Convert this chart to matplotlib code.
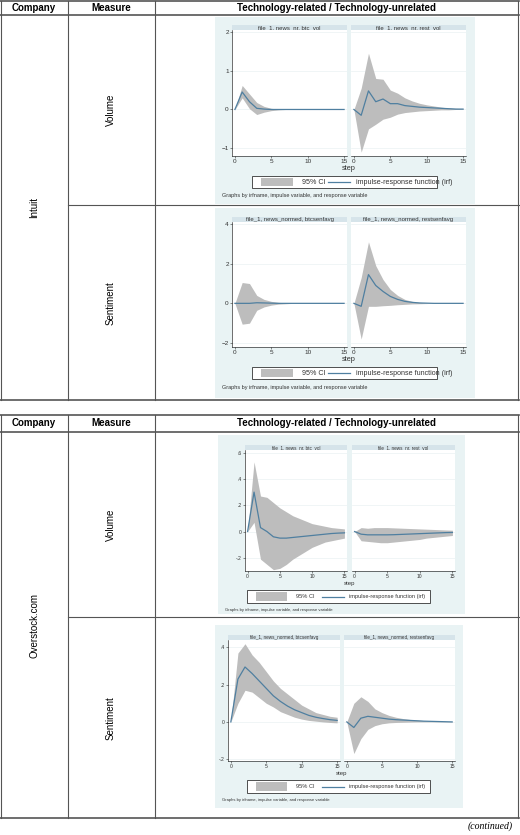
import matplotlib
matplotlib.use("Agg")
import matplotlib.pyplot as plt
from matplotlib.lines import Line2D
from matplotlib.patches import Rectangle
import numpy as np

W, H = 520, 835
steps = np.arange(16)

# ---- data ----
in_vol_btc_irf = [0, .45, .2, .03, .01, 0, 0, 0, 0, 0, 0, 0, 0, 0, 0, 0]
in_vol_btc_hi = [0, .62, .4, .18, .08, .03, .01, 0, 0, 0, 0, 0, 0, 0, 0, 0]
in_vol_btc_lo = [0, .3, .02, -.13, -.07, -.03, -.01, 0, 0, 0, 0, 0, 0, 0, 0, 0]
in_vol_rest_irf = [0, -.15, .48, .2, .27, .15, .15, .1, .08, .06, .05, .04, .03, .02, .01, .01]
in_vol_rest_hi = [0, .55, 1.45, .8, .78, .5, .42, .3, .22, .16, .12, .09, .06, .04, .03, .02]
in_vol_rest_lo = [0, -1.1, -.5, -.38, -.25, -.2, -.12, -.08, -.06, -.04, -.03, -.02, -.01, -.01, 0, 0]

in_sen_btc_irf = [0, 0, 0, .03, .02, .01, 0, 0, 0, 0, 0, 0, 0, 0, 0, 0]
in_sen_btc_hi = [0, 1.05, 1.0, .4, .2, .1, .05, .02, 0, 0, 0, 0, 0, 0, 0, 0]
in_sen_btc_lo = [0, -1.05, -1.0, -.35, -.18, -.09, -.04, -.02, 0, 0, 0, 0, 0, 0, 0, 0]
in_sen_rest_irf = [0, -.15, 1.45, .9, .6, .35, .2, .1, .05, .02, .01, 0, 0, 0, 0, 0]
in_sen_rest_hi = [0, 1.3, 3.1, 1.9, 1.2, .7, .4, .2, .1, .05, .02, .01, 0, 0, 0, 0]
in_sen_rest_lo = [0, -1.8, -.15, -.15, -.12, -.1, -.07, -.05, -.03, -.02, -.01, 0, 0, 0, 0, 0]

ov_vol_btc_irf = [0, .3, .03, 0, -.04, -.05, -.05, -.045, -.04, -.035, -.03, -.025, -.02, -.015, -.012, -.01]
ov_vol_btc_hi = [0, .53, .27, .26, .22, .18, .15, .12, .1, .08, .06, .05, .04, .03, .025, .02]
ov_vol_btc_lo = [0, .07, -.21, -.25, -.29, -.28, -.25, -.21, -.18, -.15, -.12, -.1, -.08, -.07, -.06, -.05]
ov_vol_rest_irf = [0, -.02, -.025, -.025, -.025, -.025, -.024, -.022, -.02, -.018, -.016, -.014, -.012, -.01, -.008, -.007]
ov_vol_rest_hi = [0, .03, .025, .03, .03, .03, .028, .026, .024, .022, .02, .018, .016, .014, .012, .01]
ov_vol_rest_lo = [0, -.07, -.075, -.08, -.085, -.085, -.08, -.075, -.07, -.065, -.06, -.05, -.045, -.04, -.035, -.03]

ov_sen_btc_irf = [0, .23, .295, .26, .22, .18, .14, .11, .085, .065, .05, .035, .025, .018, .012, .008]
ov_sen_btc_hi = [0, .37, .42, .36, .32, .27, .22, .18, .15, .12, .09, .07, .05, .04, .03, .025]
ov_sen_btc_lo = [0, .1, .17, .16, .13, .1, .08, .055, .04, .025, .015, .008, .004, 0, -.003, -.005]
ov_sen_rest_irf = [0, -.03, .02, .03, .025, .02, .015, .012, .01, .008, .006, .004, .003, .002, .001, 0]
ov_sen_rest_hi = [0, .1, .135, .11, .07, .05, .035, .025, .018, .013, .01, .007, .005, .004, .003, .002]
ov_sen_rest_lo = [0, -.17, -.09, -.04, -.02, -.01, -.005, -.003, -.002, -.001, 0, 0, 0, 0, 0, 0]

BG = "#e9f3f4"
STRIP = "#d6e4ea"
CI = "#bdbdbd"
IRF = "#4f7fa0"

plt.rcParams["font.family"] = ["Liberation Sans", "DejaVu Sans"]
fig = plt.figure(figsize=(W / 100, H / 100), dpi=100)


def rect(x0, y0, x1, y1):
    return [x0 / W, 1 - y1 / H, (x1 - x0) / W, (y1 - y0) / H]


def hline(y, x0, x1, lw=0.8, c="#555555"):
    fig.add_artist(Line2D([x0 / W, x1 / W], [1 - y / H] * 2, lw=lw, color=c))


def vline(x, y0, y1, lw=0.8, c="#555555"):
    fig.add_artist(Line2D([x / W] * 2, [1 - y0 / H, 1 - y1 / H], lw=lw, color=c))


def graph(bg, lp, rp, top, bot, panels, titles, yt, ylab, ylim, fs, leg, cap_y):
    fig.add_artist(Rectangle((bg[0] / W, 1 - bg[3] / H), (bg[2] - bg[0]) / W,
                             (bg[3] - bg[1]) / H, transform=fig.transFigure,
                             fc=BG, ec="none", zorder=0))
    strip = 5
    for k, (px, (irf, hi, lo), title) in enumerate(zip((lp, rp), panels, titles)):
        st = fig.add_axes(rect(px[0], top, px[1], top + strip))
        st.set_facecolor(STRIP)
        st.set_xticks([]); st.set_yticks([])
        for s in st.spines.values():
            s.set_visible(False)
        st.text(0.5, 0.5, title, ha="center", va="center", fontsize=fs, color="#333333")
        ax = fig.add_axes(rect(px[0], top + strip, px[1], bot))
        ax.fill_between(steps, lo, hi, color=CI, lw=0)
        ax.plot(steps, irf, color=IRF, lw=0.9)
        ax.set_xlim(-0.4, 15.4)
        ax.set_ylim(*ylim)
        ax.set_xticks([0, 5, 10, 15])
        ax.set_yticks(yt)
        for y in yt:
            ax.axhline(y, color="#eaf2f3", lw=0.5, zorder=0)
        ax.tick_params(labelsize=fs + 0.3, length=1.5, width=0.4, pad=0.8, colors="#333333")
        for s in ("top", "right"):
            ax.spines[s].set_visible(False)
        for s in ("left", "bottom"):
            ax.spines[s].set_linewidth(0.4)
        if k == 0:
            ax.set_yticklabels(ylab)
        else:
            ax.set_yticklabels([])
            ax.spines["left"].set_visible(False)
            ax.tick_params(axis="y", length=0)
    fig.text(((lp[0] + rp[1]) / 2) / W, 1 - (bot + 12) / H, "step",
             ha="center", va="center", fontsize=fs + 1, color="#333333")
    # legend box
    lx0, ly0, lx1, ly1 = leg
    fig.add_artist(Rectangle((lx0 / W, 1 - ly1 / H), (lx1 - lx0) / W, (ly1 - ly0) / H,
                             transform=fig.transFigure, fc="white", ec="#333333", lw=0.6))
    lw_ = lx1 - lx0
    yc = 1 - (ly0 + ly1) / 2 / H
    fig.add_artist(Rectangle(((lx0 + 0.05 * lw_) / W, 1 - (ly1 - 2) / H), 0.17 * lw_ / W,
                             (ly1 - ly0 - 4) / H, transform=fig.transFigure, fc=CI, ec="none"))
    fig.text((lx0 + 0.27 * lw_) / W, yc, "95% CI", va="center", fontsize=fs + 0.8, color="#333333")
    fig.add_artist(Line2D([(lx0 + 0.41 * lw_) / W, (lx0 + 0.53 * lw_) / W], [yc, yc],
                          color=IRF, lw=0.9))
    fig.text((lx0 + 0.56 * lw_) / W, yc, "impulse-response function (irf)", va="center",
             fontsize=fs + 0.8, color="#333333")
    fig.text((bg[0] + 7) / W, 1 - cap_y / H,
             "Graphs by irfname, impulse variable, and response variable",
             va="center", fontsize=fs - 0.3, color="#333333")


# ---- tables ----
for top, hdr, r1, bot in ((1, 15, 205, 400), (415, 432, 617, 818)):
    hline(top, 0, 519, lw=1.2)
    hline(hdr, 0, 519, lw=1.2)
    hline(r1, 68, 519)
    hline(bot, 0, 519, lw=1.2)
    for x in (1, 68, 155, 518):
        vline(x, top, bot)
    yh = 1 - (top + hdr) / 2 / H
    for x, t in ((34, "Company"), (111, "Measure"), (336, "Technology-related / Technology-unrelated")):
        fig.text(x / W, yh, t, ha="center", va="center", fontsize=7, fontweight="bold")

for x, y, t in ((34, 208, "Intuit"), (111, 110, "Volume"), (111, 303, "Sentiment"),
                (34, 625, "Overstock.com"), (111, 525, "Volume"), (111, 718, "Sentiment")):
    fig.text(x / W, 1 - y / H, t, ha="center", va="center", rotation=90, fontsize=7)

graph((215, 17, 475, 204), (232, 347), (351, 466), 25, 156,
      [(in_vol_btc_irf, in_vol_btc_hi, in_vol_btc_lo), (in_vol_rest_irf, in_vol_rest_hi, in_vol_rest_lo)],
      ["file_1, news_nr, btc_vol", "file_1, news_nr, rest_vol"],
      [-1, 0, 1, 2], ["\u22121", "0", "1", "2"], (-1.2, 2.05), 4.3, (252, 176, 437, 188), 195)
graph((215, 208, 475, 398), (232, 347), (351, 466), 217, 347,
      [(in_sen_btc_irf, in_sen_btc_hi, in_sen_btc_lo), (in_sen_rest_irf, in_sen_rest_hi, in_sen_rest_lo)],
      ["file_1, news_normed, btcsenfavg", "file_1, news_normed, restsenfavg"],
      [-2, 0, 2, 4], ["\u22122", "0", "2", "4"], (-2.2, 4.1), 4.3, (252, 367, 437, 379), 387)
graph((218, 435, 465, 614), (245, 347), (352, 455), 445, 571,
      [(ov_vol_btc_irf, ov_vol_btc_hi, ov_vol_btc_lo), (ov_vol_rest_irf, ov_vol_rest_hi, ov_vol_rest_lo)],
      ["file_1, news_nr, btc_vol", "file_1, news_nr, rest_vol"],
      [-.2, 0, .2, .4, .6], ["-.2", "0", ".2", ".4", ".6"], (-.3, .62), 3.3, (247, 590, 430, 603), 610)
graph((215, 625, 463, 808), (228, 340), (344, 455), 635, 761,
      [(ov_sen_btc_irf, ov_sen_btc_hi, ov_sen_btc_lo), (ov_sen_rest_irf, ov_sen_rest_hi, ov_sen_rest_lo)],
      ["file_1, news_normed, btcsenfavg", "file_1, news_normed, restsenfavg"],
      [-.2, 0, .2, .4], ["-.2", "0", ".2", ".4"], (-.21, .44), 3.3, (247, 780, 430, 793), 800)

fig.text(490 / W, 1 - 826 / H, "(continued)", ha="center", va="center", fontsize=7, style="italic",
         family=["Liberation Serif", "DejaVu Serif"])

fig.savefig("out.png", dpi=100)
